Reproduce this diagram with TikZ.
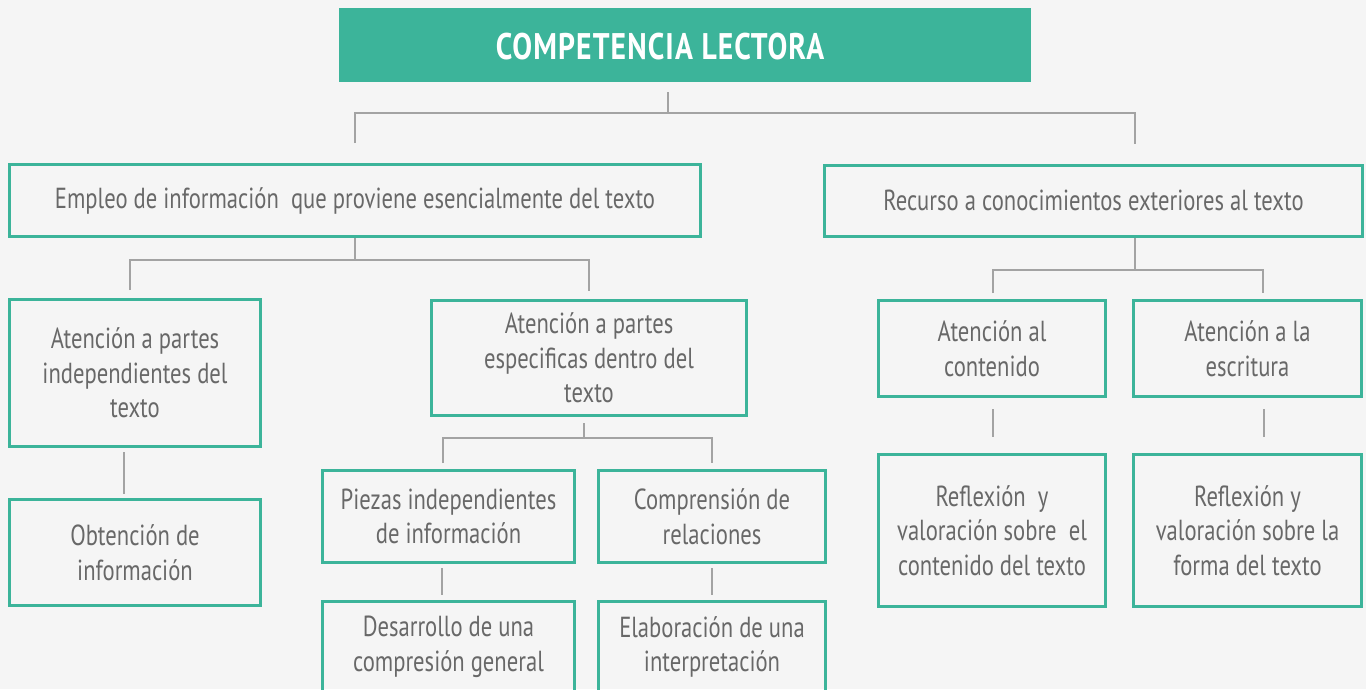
\documentclass[tikz,border=0pt]{standalone}
\usepackage{fontspec}
\setmainfont[FakeStretch=0.78]{PT Sans}
\newfontfamily\titlefont[FakeStretch=0.8,LetterSpace=3]{PT Sans}
\usetikzlibrary{calc}
\definecolor{verde}{HTML}{3CB49A}
\definecolor{gris}{HTML}{A3A3A3}
\definecolor{texto}{HTML}{686868}
\definecolor{fondo}{HTML}{F5F5F5}

\begin{document}
\begin{tikzpicture}[x=1pt,y=-1pt,
  caja/.style={draw=verde,line width=3pt,text=texto,align=center,inner sep=0pt,font=\fontsize{29}{34.5}\selectfont},
  link/.style={draw=gris,line width=2.5pt}]
\fill[fondo] (0,0) rectangle (1366,689);
\clip (0,0) rectangle (1366,689);

\node[fill=verde,minimum width=692,minimum height=74,inner sep=0pt] (comp) at (685,45) {};
\node[text=white,font=\titlefont\bfseries\fontsize{37}{42}\selectfont] (comptxt) at (660,47) {COMPETENCIA LECTORA};

\node[caja,minimum width=691,minimum height=72] (empleo) at (355,200.5) {Empleo de informaci\'on \ que proviene esencialmente del texto};
\node[caja,minimum width=538,minimum height=71] (recurso) at (1093.5,200.5) {Recurso a conocimientos exteriores al texto};

\node[caja,minimum width=251,minimum height=147] (parind) at (135,373) {Atenci\'on a partes\\independientes del\\texto};
\node[caja,minimum width=251,minimum height=106] (obt) at (135,552.5) {Obtenci\'on de\\informaci\'on};
\node[caja,minimum width=315,minimum height=115] (paresp) at (589,358) {Atenci\'on a partes\\especificas dentro del\\texto};
\node[caja,minimum width=252,minimum height=92] (piezas) at (448.5,516.5) {Piezas independientes\\de informaci\'on};
\node[caja,minimum width=227,minimum height=92] (comprel) at (712,516.5) {Comprensi\'on de\\relaciones};
\node[caja,minimum width=252,minimum height=92] (desarr) at (448.5,647) {Desarrollo de una\\compresi\'on general};
\node[caja,minimum width=227,minimum height=92] (elabor) at (712,647) {Elaboraci\'on de una\\interpretaci\'on};

\node[caja,minimum width=227,minimum height=96] (contenido) at (992,348.5) {Atenci\'on al\\contenido};
\node[caja,minimum width=228,minimum height=96] (escrit) at (1247.5,348.5) {Atenci\'on a la\\escritura};
\node[caja,minimum width=227,minimum height=152] (refcont) at (992,530.5) {Reflexi\'on \ y\\valoraci\'on sobre \ el\\contenido del texto};
\node[caja,minimum width=228,minimum height=152] (refforma) at (1247.5,530.5) {Reflexi\'on y\\valoraci\'on sobre la\\forma del texto};

\coordinate (jt) at (668,113);
\coordinate (je) at (355,260);
\coordinate (jp) at (584,438);
\coordinate (jr) at (1135,270);

\draw[link] ($(comp.south)+(-17,10)$) -- (jt);
\draw[link] ($(empleo.north)+(0,-20)$) |- (jt) -| ($(recurso.north)+(41.5,-20)$);
\draw[link] (empleo.south) -- (je);
\draw[link] ($(parind.north)+(-5,-8)$) |- (je) -| ($(paresp.north)+(0,-8)$);
\draw[link] ($(parind.south)+(-11,4)$) -- ($(obt.north)+(-11,-4)$);
\draw[link] ($(paresp.south)+(-5,6)$) -- (jp);
\draw[link] ($(piezas.north)+(-5.5,-6)$) |- (jp) -| ($(comprel.north)+(0,-6)$);
\draw[link] ($(piezas.south)+(-6.5,4)$) -- ($(desarr.north)+(-6.5,-5)$);
\draw[link] ($(comprel.south)+(0,4)$) -- ($(elabor.north)+(0,-5)$);
\draw[link] ($(recurso.south)+(41.5,0)$) -- (jr);
\draw[link] ($(contenido.north)+(1,-6)$) |- (jr) -| ($(escrit.north)+(15.5,-6)$);
\draw[link] ($(contenido.south)+(1,11)$) -- ($(refcont.north)+(1,-16)$);
\draw[link] ($(escrit.south)+(16.5,11)$) -- ($(refforma.north)+(16.5,-16)$);
\end{tikzpicture}
\end{document}
